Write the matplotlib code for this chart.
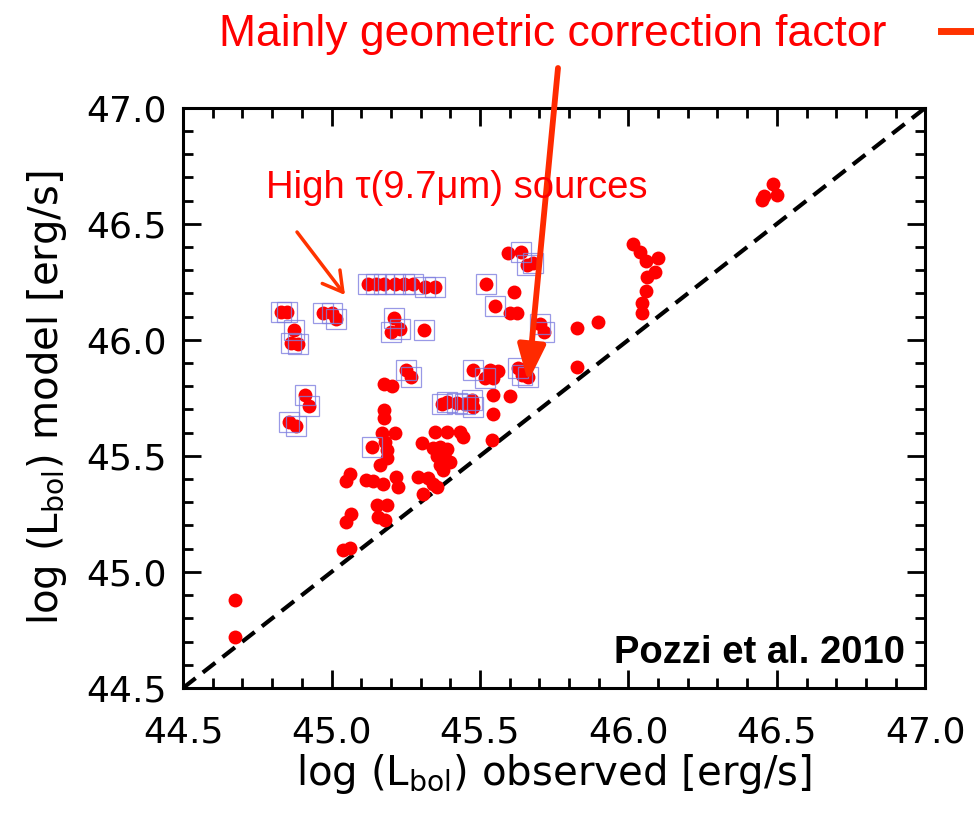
import numpy as np
import matplotlib.pyplot as plt

# sources flagged with high tau(9.7um) (boxed)
box_x = [44.83, 44.85, 44.874, 44.864, 44.887, 44.972, 45.002, 45.016,
         45.123, 45.15, 45.177, 45.214, 45.245, 45.275, 45.315, 45.349,
         45.211, 45.201, 45.231, 45.312, 45.521, 45.551, 45.639, 45.659,
         45.679, 45.703, 45.716, 45.251, 45.268, 45.477, 45.629, 45.642,
         45.662, 44.911, 44.925, 44.857, 44.881, 45.137, 45.373, 45.389,
         45.423, 45.45, 45.474, 45.477, 45.518]
box_y = [46.12, 46.12, 46.043, 45.987, 45.983, 46.116, 46.116, 46.091,
         46.241, 46.241, 46.241, 46.241, 46.241, 46.241, 46.228, 46.228,
         46.095, 46.034, 46.047, 46.043, 46.241, 46.147, 46.379, 46.323,
         46.332, 46.069, 46.034, 45.871, 45.841, 45.871, 45.879, 45.849,
         45.841, 45.763, 45.716, 45.647, 45.629, 45.539, 45.724, 45.733,
         45.728, 45.724, 45.741, 45.711, 45.836]

# remaining sources
other_x = [45.595, 45.615, 45.602, 45.625, 45.828, 45.898, 45.828, 45.534,
           45.561, 45.544, 46.016, 46.04, 46.06, 46.10, 46.09, 46.063,
           46.06, 46.047, 46.047, 46.488, 46.458, 46.501, 46.451, 45.177,
           45.204, 45.177, 45.177, 45.17, 45.214, 45.181, 45.187, 45.187,
           45.164, 45.063, 45.049, 45.117, 45.14, 45.174, 45.218, 45.224,
           45.154, 45.187, 45.157, 45.181, 45.066, 45.049, 45.039, 45.063,
           44.675, 44.675, 45.349, 45.389, 45.433, 45.443, 45.305, 45.342,
           45.366, 45.389, 45.356, 45.383, 45.40, 45.366, 45.292, 45.325,
           45.342, 45.356, 45.309, 45.376, 45.544, 45.602, 45.544, 45.541]
other_y = [46.375, 46.207, 46.116, 46.116, 46.052, 46.078, 45.884, 45.871,
           45.866, 45.836, 46.414, 46.379, 46.341, 46.353, 46.293, 46.272,
           46.211, 46.159, 46.116, 46.672, 46.621, 46.625, 46.603, 45.81,
           45.802, 45.698, 45.664, 45.599, 45.599, 45.56, 45.526, 45.491,
           45.461, 45.422, 45.392, 45.397, 45.392, 45.379, 45.409, 45.366,
           45.289, 45.289, 45.237, 45.224, 45.25, 45.216, 45.095, 45.103,
           44.879, 44.72, 45.603, 45.603, 45.603, 45.582, 45.556, 45.534,
           45.539, 45.53, 45.5, 45.491, 45.474, 45.461, 45.409, 45.405,
           45.379, 45.366, 45.336, 45.44, 45.763, 45.759, 45.681, 45.569]

lims = [44.5, 47.0]
ticks = [44.5, 45.0, 45.5, 46.0, 46.5, 47.0]

fig = plt.figure(figsize=(9.74, 8.17), dpi=100)
ax = fig.add_axes([0.188, 0.158, 0.762, 0.710])

ax.plot(lims, lims, color='black', lw=3, dashes=(3.8, 2.2), zorder=1)
ax.plot(other_x + box_x, other_y + box_y, 'o', color='#ff0000', ms=10,
        mec='none', zorder=2)
ax.plot(box_x, box_y, 's', ms=14, mfc='none', mec='#8080e0', mew=0.9,
        alpha=0.8, zorder=3)

ax.set_xlim(lims)
ax.set_ylim(lims)
ax.set_xticks(ticks)
ax.set_yticks(ticks)
ax.set_xticklabels(['%.1f' % t for t in ticks])
ax.set_yticklabels(['%.1f' % t for t in ticks])
ax.set_xticks(np.arange(44.5, 47.01, 0.1), minor=True)
ax.set_yticks(np.arange(44.5, 47.01, 0.1), minor=True)
ax.tick_params(which='both', direction='in', top=True, right=True, width=2)
ax.tick_params(which='major', length=13, labelsize=26)
ax.tick_params(axis='x', which='major', pad=20)
ax.tick_params(axis='y', which='major', pad=12)
ax.tick_params(which='minor', length=7)
for s in ax.spines.values():
    s.set_linewidth(2.2)

ax.set_xlabel(r'log (L$_{\mathregular{bol}}$) observed [erg/s]', fontsize=29, labelpad=2)
ax.set_ylabel(r'log (L$_{\mathregular{bol}}$) model [erg/s]', fontsize=29, labelpad=12)

ax.text(0.973, 0.043, 'Pozzi et al. 2010', transform=ax.transAxes,
        ha='right', va='baseline', fontsize=27.5, fontweight='bold',
        family='Liberation Sans')

# annotations in figure pixels
W, H = 974, 817
def fp(x, y):
    return (x / W, 1 - y / H)

fig.text(*fp(553, 46), 'Mainly geometric correction factor', ha='center',
         va='baseline', fontsize=32, color='#ff0000', family='Liberation Sans')
fig.text(*fp(266, 198), 'High \u03c4(9.7\u03bcm) sources', ha='left',
         va='baseline', fontsize=27.5, color='#ff0000', family='Liberation Sans')

ax.annotate('', xy=fp(528, 382), xycoords='figure fraction',
            xytext=fp(558, 68), textcoords='figure fraction',
            arrowprops=dict(arrowstyle='-|>,head_length=1.1,head_width=0.42',
                            mutation_scale=20, lw=4.2, color='#ff2a00',
                            shrinkA=0, shrinkB=0), annotation_clip=False)
ax.annotate('', xy=fp(345, 295), xycoords='figure fraction',
            xytext=fp(297, 232), textcoords='figure fraction',
            arrowprops=dict(arrowstyle='->,head_length=0.7,head_width=0.4',
                            mutation_scale=20, lw=2.5, color='#ff3300',
                            shrinkA=0, shrinkB=0), annotation_clip=False)
fig.add_artist(plt.Line2D([941 / W, 1.0], [1 - 31 / H, 1 - 31 / H],
                          transform=fig.transFigure, color='#ff3300', lw=5))

fig.savefig('out.png', dpi=100)
